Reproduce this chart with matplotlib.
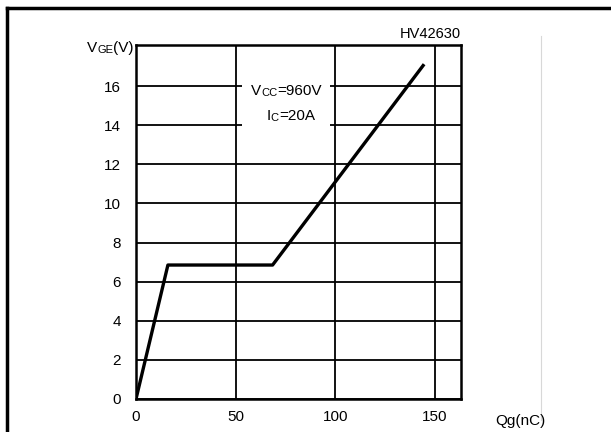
import matplotlib
matplotlib.use("Agg")
import matplotlib.pyplot as plt
from matplotlib.lines import Line2D
from matplotlib.patches import Rectangle

plt.rcParams['font.family'] = ['Liberation Sans', 'DejaVu Sans']

# gate charge curve
qg = [0, 16, 68.5, 144]
vge = [0, 6.85, 6.85, 17.05]

xticks = [0, 50, 100, 150]
yticks = [0, 2, 4, 6, 8, 10, 12, 14, 16]

W, H = 611, 432
fig = plt.figure(figsize=(W / 100, H / 100), dpi=100)

# page frame lines
fig.add_artist(Line2D([7 / W, 1], [1 - 8 / H, 1 - 8 / H], color='black', lw=2.5))
fig.add_artist(Line2D([7 / W, 7 / W], [0, 1 - 8 / H], color='black', lw=2.5))
fig.add_artist(Line2D([541 / W, 541 / W], [1 - 420 / H, 1 - 36 / H], color='#d8d8d8', lw=0.8))

ax = fig.add_axes([136 / W, 1 - 399 / H, (461 - 136) / W, (399 - 45) / H])
ax.set_xlim(0, 163)
ax.set_ylim(0, 18.1)
ax.set_xticks(xticks)
ax.set_yticks(yticks)
ax.tick_params(length=0, labelsize=11)
ax.tick_params(axis='y', pad=11)
ax.tick_params(axis='x', pad=8)
ax.grid(True, color='black', lw=1.3)
for s in ax.spines.values():
    s.set_linewidth(1.8)

ax.add_patch(Rectangle((53, 13.4), 44.2, 3.3, facecolor='white', edgecolor='none', zorder=2))
ax.plot(qg, vge, color='black', lw=2.4, zorder=3)

# Vcc / Ic labels
t = ax.text(57.6, 15.55, "V", fontsize=11, va='baseline', zorder=4)
t = ax.annotate("CC", xy=(1, 0), xycoords=t, fontsize=8, va='bottom', zorder=4)
ax.annotate("=960V", xy=(1, 0), xycoords=t, fontsize=11, va='bottom', zorder=4)
t = ax.text(65.5, 14.27, "I", fontsize=11, va='baseline', zorder=4)
t = ax.annotate("C", xy=(1, 0), xycoords=t, fontsize=8, va='bottom', zorder=4)
ax.annotate("=20A", xy=(1, 0), xycoords=t, fontsize=11, va='bottom', zorder=4)

# axis labels
t = fig.text(87 / W, 1 - 52 / H, "V", fontsize=11, va='baseline')
t = ax.annotate("GE", xy=(1, 0), xycoords=t, fontsize=8, va='bottom', annotation_clip=False)
ax.annotate("(V)", xy=(1, 0), xycoords=t, fontsize=11, va='bottom', annotation_clip=False)
fig.text(461 / W, 1 - 38 / H, "HV42630", fontsize=10.5, ha='right', va='baseline')
fig.text(495 / W, 1 - 425 / H, "Qg(nC)", fontsize=11, ha='left', va='baseline')

fig.savefig("out.png", dpi=100)
